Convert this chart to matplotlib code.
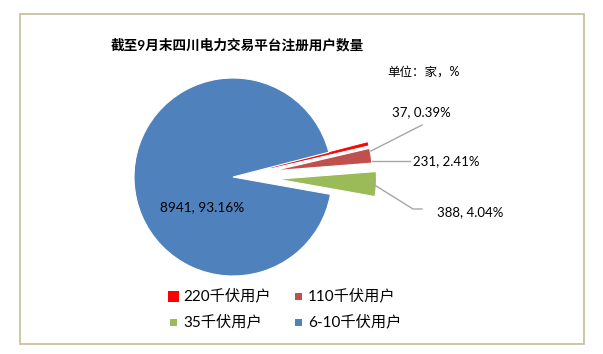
import matplotlib.pyplot as plt
from matplotlib.patches import Rectangle

plt.rcParams['font.family'] = ['Lato', 'Noto Sans CJK SC', 'DejaVu Sans']

# data
categories = ["220千伏用户", "110千伏用户", "35千伏用户", "6-10千伏用户"]
counts = [37, 231, 388, 8941]
colors = ["#FF0000", "#C0504D", "#9BBB59", "#4F81BD"]
explode = [0.40, 0.41, 0.45, 0.0]

total = sum(counts)
pcts = [c / total * 100 for c in counts]
labels = [f"{c}, {p:.2f}%" for c, p in zip(counts, pcts)]

W, H = 603, 354
R = 99
fig = plt.figure(figsize=(W / 100, H / 100), dpi=100)
ax = fig.add_axes([0, 0, 1, 1])

# chart border
ax.add_patch(Rectangle((20, 10), 564, 330, fill=False, edgecolor="#C4BD97", linewidth=1.2))

wedges, _ = ax.pie(counts, colors=colors, explode=[e * R for e in explode], startangle=14.5,
                   counterclock=False, center=(233, 177), radius=R, frame=True,
                   wedgeprops=dict(edgecolor="white", linewidth=0.8))
wedges[0].set_edgecolor("#FF0000")
wedges[0].set_linewidth(0.6)
ax.set_xlim(0, W)
ax.set_ylim(0, H)
ax.axis("off")

ax.text(237, 309, "截至9月末四川电力交易平台注册用户数量", ha="center", va="center",
        fontsize=9.8, fontweight="bold")
ax.text(387, 282, "单位：家，%", ha="left", va="center", fontsize=9)

# data labels with leader lines
lc = "#A6A6A6"
ax.plot([422, 371], [229, 203], color=lc, lw=1)
ax.text(392, 242, labels[0], ha="left", va="center", fontsize=9.5)
ax.plot([372, 410], [193, 193], color=lc, lw=1)
ax.text(413, 193, labels[1], ha="left", va="center", fontsize=9.5)
ax.plot([373, 413, 422], [170, 145, 145], color=lc, lw=1)
ax.text(437, 142, labels[2], ha="left", va="center", fontsize=9.5)
ax.text(202, 147, labels[3], ha="center", va="center", fontsize=9.8)

# legend
leg_pos = [(173, 58), (298, 58), (173, 32), (298, 32)]
leg_size = [11, 7, 7, 7]
for (x, y), s, col, name in zip(leg_pos, leg_size, colors, categories):
    ax.add_patch(Rectangle((x - s / 2, y - s / 2), s, s, facecolor=col, edgecolor="none"))
    ax.text(x + 10, y, name, ha="left", va="center", fontsize=11)

fig.savefig("out.png", dpi=100)
